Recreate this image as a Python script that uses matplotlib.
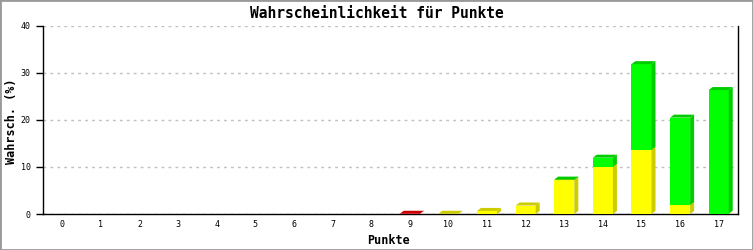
import matplotlib
matplotlib.use("Agg")
import matplotlib.pyplot as plt
from matplotlib.patches import Polygon, Rectangle
import numpy as np

categories = list(range(18))
tick_labels = [str(c) for c in categories]
red_vals = [0, 0, 0, 0, 0, 0, 0, 0, 0, 0.05, 0, 0, 0, 0, 0, 0, 0, 0]
yellow_vals = [0, 0, 0, 0, 0, 0, 0, 0, 0, 0, 0.05, 0.65, 1.8, 7.2, 10.0, 13.6, 1.9, 0.1]
green_vals = [0, 0, 0, 0, 0, 0, 0, 0, 0, 0, 0, 0, 0, 0.1, 1.95, 18.2, 18.55, 26.2]

series = [
    (red_vals, "#ff0000", "#cc0000"),
    (yellow_vals, "#ffff00", "#cccc00"),
    (green_vals, "#00ff00", "#00cc00"),
]

fig = plt.figure(figsize=(7.53, 2.5), dpi=100)
ax = fig.add_axes([43/753, 36/250, (738-43)/753, (214-25.5)/250])

mono = ["DejaVu Sans Mono"]
bw = 0.52
dx = 4/38.6
dy = 3/4.71

bottoms = np.zeros(len(categories))
for vals, front, dark in series:
    for i, v in enumerate(vals):
        if v <= 0:
            continue
        b = bottoms[i]
        x0 = categories[i] - bw/2
        x1 = categories[i] + bw/2
        t = b + v
        ax.add_patch(Rectangle((x0, b), bw, v, facecolor=front, edgecolor="none", zorder=3))
        ax.add_patch(Polygon([(x1, b), (x1 + dx, b + dy), (x1 + dx, t + dy), (x1, t)],
                             closed=True, facecolor=dark, edgecolor="none", zorder=3))
        ax.add_patch(Polygon([(x0, t), (x0 + dx, t + dy), (x1 + dx, t + dy), (x1, t)],
                             closed=True, facecolor=dark, edgecolor="none", zorder=3))
        bottoms[i] = t

ax.set_xlim(-0.5, 17.5)
ax.set_ylim(0, 40)
ax.set_xticks(categories)
ax.set_xticklabels(tick_labels, fontfamily=mono, fontsize=6)
ax.set_yticks([0, 10, 20, 30, 40])
ax.set_yticklabels(["0", "10", "20", "30", "40"], fontfamily=mono, fontsize=6)
ax.tick_params(axis="x", length=0, pad=4)
ax.tick_params(axis="y", length=5, width=1, pad=4)
ax.yaxis.grid(True, color="#c0c0c0", linestyle=(0, (2, 3)), linewidth=1)
ax.set_axisbelow(True)
for s in ["left", "bottom", "right"]:
    ax.spines[s].set_linewidth(1)
    ax.spines[s].set_color("black")
ax.spines["top"].set_visible(False)

ax.set_xlabel("Punkte", fontfamily=mono, fontsize=8.5, fontweight="bold")
ax.set_ylabel("Wahrsch. (%)", fontfamily=mono, fontsize=8.5, fontweight="bold")
ax.xaxis.set_label_coords((389 - 43) / 695, (214 - 240) / 188.5)
ax.yaxis.set_label_coords((12 - 43) / 695, (214 - 121) / 188.5)
ax.xaxis.label.set_va("center")
ax.yaxis.label.set_va("center")
fig.text(0.5, 1 - 13/250, "Wahrscheinlichkeit für Punkte", ha="center", va="center",
         fontfamily=mono, fontsize=10.5, fontweight="bold")

fig.patches.append(Rectangle((0, 0), 1, 1, transform=fig.transFigure, fill=False,
                             edgecolor="#999999", linewidth=2))

fig.savefig("out.png", dpi=100)
